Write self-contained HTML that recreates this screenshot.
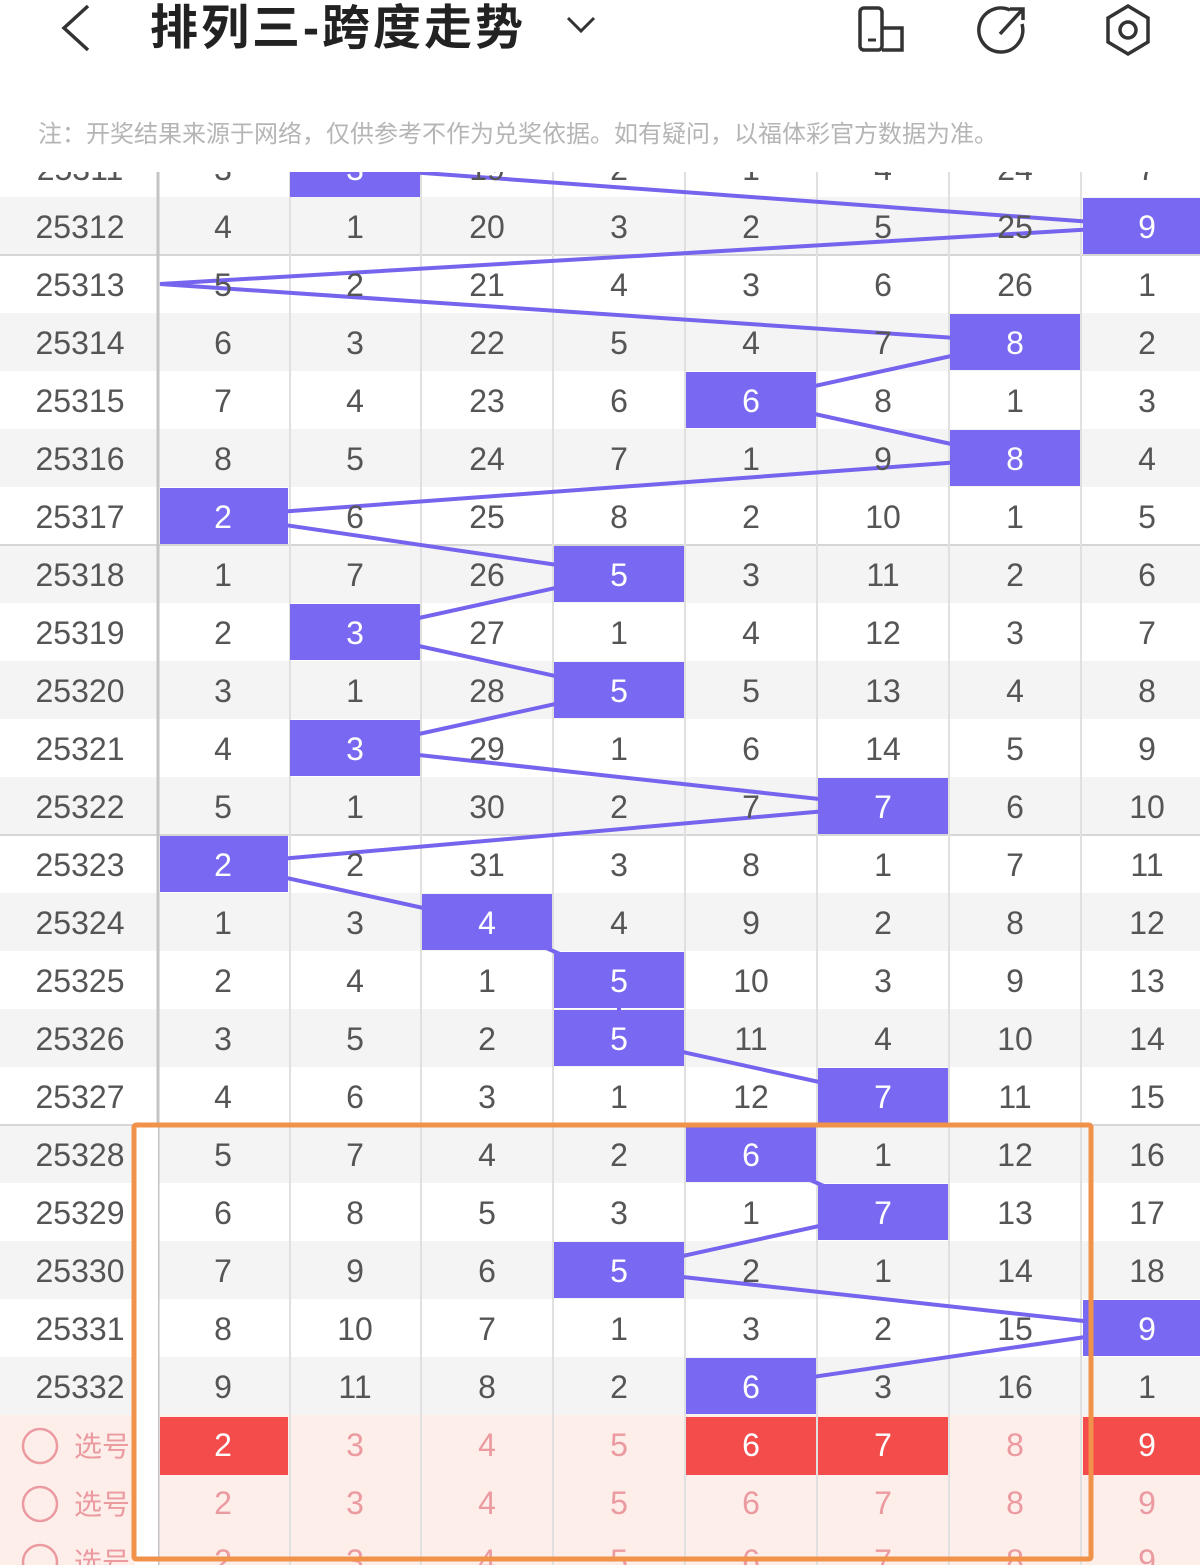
<!DOCTYPE html>
<html><head><meta charset="utf-8"><style>
html,body{margin:0;padding:0;background:#fff;width:1200px;height:1565px;overflow:hidden}
svg{display:block}
.n{font-family:"Liberation Sans","Noto Sans CJK SC",sans-serif;font-size:32px;fill:#555;text-anchor:middle}
.w{fill:#fff}
.p{fill:#eb9aa0}
</style></head><body>
<svg width="1200" height="1565" viewBox="0 0 1200 1565" xmlns="http://www.w3.org/2000/svg">
<path d="M88 6 L64 28 L88 50" fill="none" stroke="#333" stroke-width="3.5"/>
<text x="150" y="44" font-family="Liberation Sans,'Noto Sans CJK SC',sans-serif" font-size="48" font-weight="bold" fill="#222" letter-spacing="3">排列三-跨度走势</text>
<path d="M568 18 L581 31 L594 18" fill="none" stroke="#333" stroke-width="3"/>
<rect x="860" y="8" width="22" height="42" rx="4" fill="none" stroke="#333" stroke-width="3.5"/>
<path d="M882 28 H902 V50 H882" fill="none" stroke="#333" stroke-width="3.5"/><line x1="868" y1="40" x2="876" y2="40" stroke="#333" stroke-width="3"/>
<path d="M1010 10 A22 22 0 1 0 1022 24" fill="none" stroke="#333" stroke-width="3.5"/><path d="M1000 34 L1022 10 M1010 9 H1023 V20" fill="none" stroke="#333" stroke-width="3.5"/>
<path d="M1128 6 L1148 18 V42 L1128 54 L1108 42 V18 Z" fill="none" stroke="#333" stroke-width="3.5"/><circle cx="1128" cy="30" r="8" fill="none" stroke="#333" stroke-width="3.5"/>
<text x="38" y="142" font-family="Liberation Sans,'Noto Sans CJK SC',sans-serif" font-size="24" fill="#b5b5b5">注：开奖结果来源于网络，仅供参考不作为兑奖依据。如有疑问，以福体彩官方数据为准。</text>
<defs><clipPath id="c"><rect x="0" y="172" width="1200" height="1393"/></clipPath></defs>
<g clip-path="url(#c)">
<g fill="#f4f4f4">
<rect x="0" y="197" width="1200" height="58"/><rect x="0" y="313" width="1200" height="58"/><rect x="0" y="429" width="1200" height="58"/>
<rect x="0" y="545" width="1200" height="58"/><rect x="0" y="661" width="1200" height="58"/><rect x="0" y="777" width="1200" height="58"/>
<rect x="0" y="893" width="1200" height="58"/><rect x="0" y="1009" width="1200" height="58"/><rect x="0" y="1125" width="1200" height="58"/>
<rect x="0" y="1241" width="1200" height="58"/><rect x="0" y="1357" width="1200" height="58"/>
</g>
<rect x="0" y="1415" width="1200" height="160" fill="#fdeeea"/>
<g stroke="#d6d6d6" stroke-width="2"><line x1="0" y1="255" x2="1200" y2="255"/><line x1="0" y1="545" x2="1200" y2="545"/><line x1="0" y1="835" x2="1200" y2="835"/><line x1="0" y1="1125" x2="1200" y2="1125"/></g>
<g stroke="#e0e0e0" stroke-width="2">
<line x1="290" y1="172" x2="290" y2="1565"/><line x1="421" y1="172" x2="421" y2="1565"/><line x1="553" y1="172" x2="553" y2="1565"/><line x1="685" y1="172" x2="685" y2="1565"/><line x1="817" y1="172" x2="817" y2="1565"/><line x1="949" y1="172" x2="949" y2="1565"/><line x1="1081" y1="172" x2="1081" y2="1565"/>
</g>
<line x1="158" y1="172" x2="158" y2="1565" stroke="#c4c4c4" stroke-width="3"/>
<polyline fill="none" stroke="#7564ee" stroke-width="4" points="355,168 1147,226 160,284 1015,342 751,400 1015,458 223,516 619,574 355,632 619,690 355,748 883,806 223,864 487,922 619,980 619,1038 883,1096 751,1154 883,1212 619,1270 1147,1328 751,1386"/>
<g fill="#7868f2">
<rect x="290" y="140" width="130" height="57"/>
<rect x="1083" y="198" width="117" height="56"/>
<rect x="950" y="314" width="130" height="56"/>
<rect x="686" y="372" width="130" height="56"/>
<rect x="950" y="430" width="130" height="56"/>
<rect x="160" y="488" width="128" height="56"/>
<rect x="554" y="546" width="130" height="56"/>
<rect x="290" y="604" width="130" height="56"/>
<rect x="554" y="662" width="130" height="56"/>
<rect x="290" y="720" width="130" height="56"/>
<rect x="818" y="778" width="130" height="56"/>
<rect x="160" y="836" width="128" height="56"/>
<rect x="422" y="894" width="130" height="56"/>
<rect x="554" y="952" width="130" height="56"/>
<rect x="554" y="1010" width="130" height="56"/>
<rect x="818" y="1068" width="130" height="56"/>
<rect x="686" y="1126" width="130" height="56"/>
<rect x="818" y="1184" width="130" height="56"/>
<rect x="554" y="1242" width="130" height="56"/>
<rect x="1083" y="1300" width="117" height="56"/>
<rect x="686" y="1358" width="130" height="56"/>
</g>
<g fill="#f44b4b">
<rect x="160" y="1417" width="128" height="58"/><rect x="686" y="1417" width="130" height="58"/><rect x="818" y="1417" width="130" height="58"/><rect x="1083" y="1417" width="117" height="58"/>
</g>
<g class="n">
<text x="80" y="180">25311</text><text x="223" y="180">3</text><text x="355" y="180" class="n w">3</text><text x="487" y="180">19</text><text x="619" y="180">2</text><text x="751" y="180">1</text><text x="883" y="180">4</text><text x="1015" y="180">24</text><text x="1147" y="180">7</text>
<text x="80" y="238">25312</text><text x="223" y="238">4</text><text x="355" y="238">1</text><text x="487" y="238">20</text><text x="619" y="238">3</text><text x="751" y="238">2</text><text x="883" y="238">5</text><text x="1015" y="238">25</text><text x="1147" y="238" class="n w">9</text>
<text x="80" y="296">25313</text><text x="223" y="296">5</text><text x="355" y="296">2</text><text x="487" y="296">21</text><text x="619" y="296">4</text><text x="751" y="296">3</text><text x="883" y="296">6</text><text x="1015" y="296">26</text><text x="1147" y="296">1</text>
<text x="80" y="354">25314</text><text x="223" y="354">6</text><text x="355" y="354">3</text><text x="487" y="354">22</text><text x="619" y="354">5</text><text x="751" y="354">4</text><text x="883" y="354">7</text><text x="1015" y="354" class="n w">8</text><text x="1147" y="354">2</text>
<text x="80" y="412">25315</text><text x="223" y="412">7</text><text x="355" y="412">4</text><text x="487" y="412">23</text><text x="619" y="412">6</text><text x="751" y="412" class="n w">6</text><text x="883" y="412">8</text><text x="1015" y="412">1</text><text x="1147" y="412">3</text>
<text x="80" y="470">25316</text><text x="223" y="470">8</text><text x="355" y="470">5</text><text x="487" y="470">24</text><text x="619" y="470">7</text><text x="751" y="470">1</text><text x="883" y="470">9</text><text x="1015" y="470" class="n w">8</text><text x="1147" y="470">4</text>
<text x="80" y="528">25317</text><text x="223" y="528" class="n w">2</text><text x="355" y="528">6</text><text x="487" y="528">25</text><text x="619" y="528">8</text><text x="751" y="528">2</text><text x="883" y="528">10</text><text x="1015" y="528">1</text><text x="1147" y="528">5</text>
<text x="80" y="586">25318</text><text x="223" y="586">1</text><text x="355" y="586">7</text><text x="487" y="586">26</text><text x="619" y="586" class="n w">5</text><text x="751" y="586">3</text><text x="883" y="586">11</text><text x="1015" y="586">2</text><text x="1147" y="586">6</text>
<text x="80" y="644">25319</text><text x="223" y="644">2</text><text x="355" y="644" class="n w">3</text><text x="487" y="644">27</text><text x="619" y="644">1</text><text x="751" y="644">4</text><text x="883" y="644">12</text><text x="1015" y="644">3</text><text x="1147" y="644">7</text>
<text x="80" y="702">25320</text><text x="223" y="702">3</text><text x="355" y="702">1</text><text x="487" y="702">28</text><text x="619" y="702" class="n w">5</text><text x="751" y="702">5</text><text x="883" y="702">13</text><text x="1015" y="702">4</text><text x="1147" y="702">8</text>
<text x="80" y="760">25321</text><text x="223" y="760">4</text><text x="355" y="760" class="n w">3</text><text x="487" y="760">29</text><text x="619" y="760">1</text><text x="751" y="760">6</text><text x="883" y="760">14</text><text x="1015" y="760">5</text><text x="1147" y="760">9</text>
<text x="80" y="818">25322</text><text x="223" y="818">5</text><text x="355" y="818">1</text><text x="487" y="818">30</text><text x="619" y="818">2</text><text x="751" y="818">7</text><text x="883" y="818" class="n w">7</text><text x="1015" y="818">6</text><text x="1147" y="818">10</text>
<text x="80" y="876">25323</text><text x="223" y="876" class="n w">2</text><text x="355" y="876">2</text><text x="487" y="876">31</text><text x="619" y="876">3</text><text x="751" y="876">8</text><text x="883" y="876">1</text><text x="1015" y="876">7</text><text x="1147" y="876">11</text>
<text x="80" y="934">25324</text><text x="223" y="934">1</text><text x="355" y="934">3</text><text x="487" y="934" class="n w">4</text><text x="619" y="934">4</text><text x="751" y="934">9</text><text x="883" y="934">2</text><text x="1015" y="934">8</text><text x="1147" y="934">12</text>
<text x="80" y="992">25325</text><text x="223" y="992">2</text><text x="355" y="992">4</text><text x="487" y="992">1</text><text x="619" y="992" class="n w">5</text><text x="751" y="992">10</text><text x="883" y="992">3</text><text x="1015" y="992">9</text><text x="1147" y="992">13</text>
<text x="80" y="1050">25326</text><text x="223" y="1050">3</text><text x="355" y="1050">5</text><text x="487" y="1050">2</text><text x="619" y="1050" class="n w">5</text><text x="751" y="1050">11</text><text x="883" y="1050">4</text><text x="1015" y="1050">10</text><text x="1147" y="1050">14</text>
<text x="80" y="1108">25327</text><text x="223" y="1108">4</text><text x="355" y="1108">6</text><text x="487" y="1108">3</text><text x="619" y="1108">1</text><text x="751" y="1108">12</text><text x="883" y="1108" class="n w">7</text><text x="1015" y="1108">11</text><text x="1147" y="1108">15</text>
<text x="80" y="1166">25328</text><text x="223" y="1166">5</text><text x="355" y="1166">7</text><text x="487" y="1166">4</text><text x="619" y="1166">2</text><text x="751" y="1166" class="n w">6</text><text x="883" y="1166">1</text><text x="1015" y="1166">12</text><text x="1147" y="1166">16</text>
<text x="80" y="1224">25329</text><text x="223" y="1224">6</text><text x="355" y="1224">8</text><text x="487" y="1224">5</text><text x="619" y="1224">3</text><text x="751" y="1224">1</text><text x="883" y="1224" class="n w">7</text><text x="1015" y="1224">13</text><text x="1147" y="1224">17</text>
<text x="80" y="1282">25330</text><text x="223" y="1282">7</text><text x="355" y="1282">9</text><text x="487" y="1282">6</text><text x="619" y="1282" class="n w">5</text><text x="751" y="1282">2</text><text x="883" y="1282">1</text><text x="1015" y="1282">14</text><text x="1147" y="1282">18</text>
<text x="80" y="1340">25331</text><text x="223" y="1340">8</text><text x="355" y="1340">10</text><text x="487" y="1340">7</text><text x="619" y="1340">1</text><text x="751" y="1340">3</text><text x="883" y="1340">2</text><text x="1015" y="1340">15</text><text x="1147" y="1340" class="n w">9</text>
<text x="80" y="1398">25332</text><text x="223" y="1398">9</text><text x="355" y="1398">11</text><text x="487" y="1398">8</text><text x="619" y="1398">2</text><text x="751" y="1398" class="n w">6</text><text x="883" y="1398">3</text><text x="1015" y="1398">16</text><text x="1147" y="1398">1</text>
</g>
<g class="n p">
<text x="223" y="1456" class="n w">2</text><text x="355" y="1456">3</text><text x="487" y="1456">4</text><text x="619" y="1456">5</text><text x="751" y="1456" class="n w">6</text><text x="883" y="1456" class="n w">7</text><text x="1015" y="1456">8</text><text x="1147" y="1456" class="n w">9</text>
<text x="223" y="1514">2</text><text x="355" y="1514">3</text><text x="487" y="1514">4</text><text x="619" y="1514">5</text><text x="751" y="1514">6</text><text x="883" y="1514">7</text><text x="1015" y="1514">8</text><text x="1147" y="1514">9</text>
<text x="223" y="1572">2</text><text x="355" y="1572">3</text><text x="487" y="1572">4</text><text x="619" y="1572">5</text><text x="751" y="1572">6</text><text x="883" y="1572">7</text><text x="1015" y="1572">8</text><text x="1147" y="1572">9</text>
</g>
<g fill="none" stroke="#eb9aa0" stroke-width="2.5"><circle cx="40" cy="1446" r="17"/><circle cx="40" cy="1504" r="17"/><circle cx="40" cy="1562" r="17"/></g>
<g font-family="Liberation Sans,'Noto Sans CJK SC',sans-serif" font-size="28" fill="#eb9aa0">
<text x="74" y="1456">选号</text><text x="74" y="1514">选号</text><text x="74" y="1572">选号</text></g>
<rect x="135" y="1126" width="23" height="440" fill="#fff"/>
</g>
<rect x="134" y="1125" width="957" height="434" fill="none" stroke="#f0924a" stroke-width="5" rx="2"/>
</svg>
</body></html>
